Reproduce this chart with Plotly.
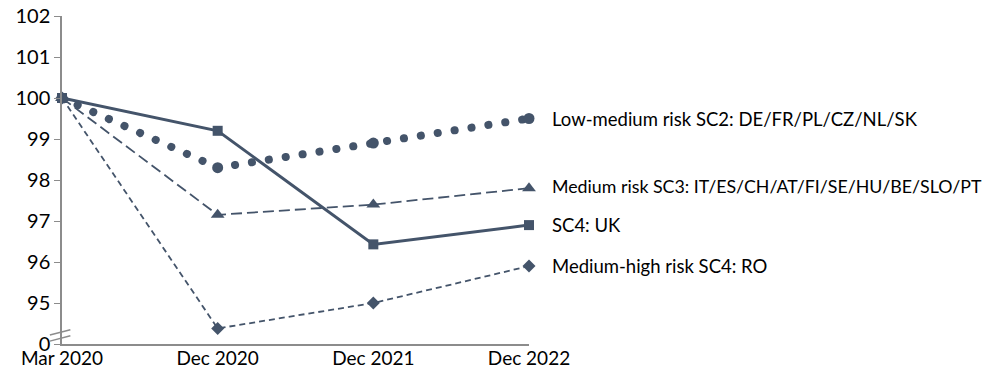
import plotly.graph_objects as go

categories = ["Mar 2020", "Dec 2020", "Dec 2021", "Dec 2022"]
sc2_low_medium = [100, 98.3, 98.9, 99.5]
sc3_medium = [100, 97.15, 97.4, 97.8]
sc4_uk = [100, 99.2, 96.43, 96.9]
sc4_ro = [100, 94.38, 95.0, 95.9]
labels = [
    "Low-medium risk SC2: DE/FR/PL/CZ/NL/SK",
    "Medium risk SC3: IT/ES/CH/AT/FI/SE/HU/BE/SLO/PT",
    "SC4: UK",
    "Medium-high risk SC4: RO",
]
label_y = [99.5, 97.85, 96.9, 95.9]
label_size = [18.5, 17.8, 18.5, 18.5]
y_ticks = [94, 95, 96, 97, 98, 99, 100, 101, 102]
y_ticktext = ["0", "95", "96", "97", "98", "99", "100", "101", "102"]

COL = "#44546A"
AX = "#8C8C8C"
FONT = "Lato, Carlito, Liberation Sans, sans-serif"

fig = go.Figure()
fig.add_trace(go.Scatter(x=categories, y=sc2_low_medium, mode="lines+markers",
                         line=dict(color=COL, width=8, dash="5px,12px"),
                         marker=dict(symbol="circle", size=11, color=COL),
                         cliponaxis=False, name=labels[0]))
fig.add_trace(go.Scatter(x=categories, y=sc3_medium, mode="lines+markers",
                         line=dict(color=COL, width=1.8, dash="11px,5px"),
                         marker=dict(symbol="triangle-up", size=12, color=COL),
                         cliponaxis=False, name=labels[1]))
fig.add_trace(go.Scatter(x=categories, y=sc4_uk, mode="lines+markers",
                         line=dict(color=COL, width=3),
                         marker=dict(symbol="square", size=10, color=COL),
                         cliponaxis=False, name=labels[2]))
fig.add_trace(go.Scatter(x=categories, y=sc4_ro, mode="lines+markers",
                         line=dict(color=COL, width=1.8, dash="6px,4px"),
                         marker=dict(symbol="diamond", size=10, color=COL),
                         cliponaxis=False, name=labels[3]))

for txt, yv, fs in zip(labels, label_y, label_size):
    fig.add_annotation(x=categories[-1], y=yv, text=txt, showarrow=False,
                       xanchor="left", yanchor="middle", xshift=21,
                       font=dict(family=FONT, size=fs, color="#000000"))

# axis break marks
for y0, y1 in [(94.22, 94.35), (94.07, 94.20)]:
    fig.add_shape(type="line", xref="paper", yref="y", x0=-0.026, x1=0.018,
                  y0=y0, y1=y1, line=dict(color=AX, width=1.5))

fig.update_layout(
    width=1004, height=385,
    margin=dict(l=62, r=475, t=16, b=41),
    paper_bgcolor="white", plot_bgcolor="white",
    showlegend=False,
    font=dict(family=FONT, size=19, color="#000000"),
)
fig.update_xaxes(type="category", range=[0, 3], showgrid=False, zeroline=False,
                 showline=True, linecolor=AX, linewidth=1.5, ticks="",
                 automargin=False, ticklabelstandoff=-4,
                 tickfont=dict(family=FONT, size=19, color="#000000"))
fig.update_yaxes(range=[94, 102], tickvals=y_ticks, ticktext=y_ticktext,
                 showgrid=False, zeroline=False, showline=True, linecolor=AX,
                 linewidth=1.5, ticks="outside", ticklen=6, tickcolor=AX,
                 automargin=False, ticklabeloverflow="allow",
                 tickfont=dict(family=FONT, size=20, color="#000000"))

post = """
document.body.style.margin = '0';
var gd = document.getElementById('{plot_id}');
function roundDots(){
  var p = gd.querySelectorAll('.scatterlayer .trace')[0];
  if(!p) return;
  p.querySelectorAll('path.js-line').forEach(function(el){
    el.style.strokeLinecap = 'round';
    el.style.strokeDasharray = '0.1px,17px';
  });
}
roundDots();
gd.on && gd.on('plotly_afterplot', roundDots);
"""
fig.write_html("out.html", post_script=post, config={"displayModeBar": False})
